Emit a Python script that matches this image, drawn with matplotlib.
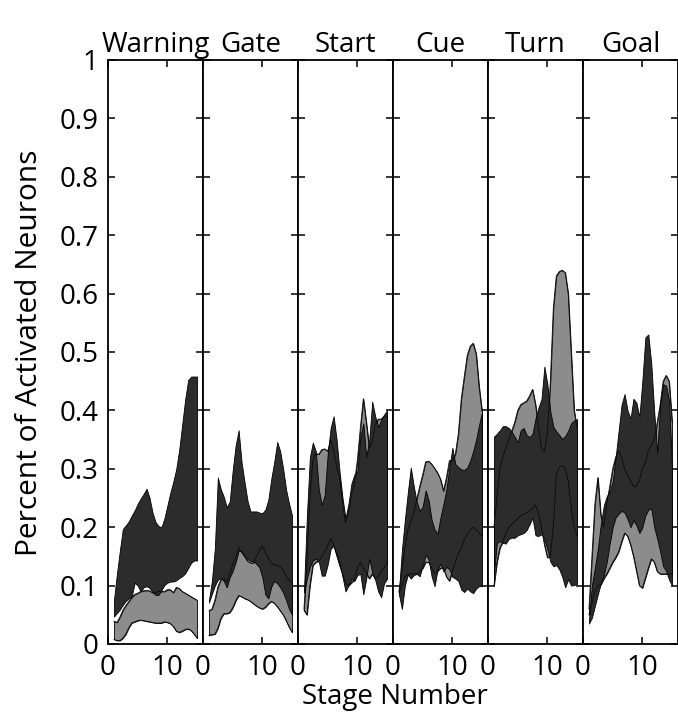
import matplotlib
matplotlib.use('Agg')
import matplotlib.pyplot as plt

plt.rcParams['font.family'] = ['Open Sans', 'DejaVu Sans']

stage = [1.0, 1.5, 2.0, 2.5, 3.0, 3.5, 4.0, 4.5, 5.0, 5.5, 6.0, 6.5, 7.0, 7.5,
         8.0, 8.5, 9.0, 9.5, 10.0, 10.5, 11.0, 11.5, 12.0, 12.5, 13.0, 13.5,
         14.0, 14.5, 15.0]

panel_names = ['Warning', 'Gate', 'Start', 'Cue', 'Turn', 'Goal']
y_ticks = [0, 0.1, 0.2, 0.3, 0.4, 0.5, 0.6, 0.7, 0.8, 0.9, 1]
y_tick_labels = ['0', '0.1', '0.2', '0.3', '0.4', '0.5', '0.6', '0.7', '0.8', '0.9', '1']
x_ticks = [0, 10]
x_tick_labels = ['0', '10']

# Warning
warning_dark_hi = [.075, .12, .16, .197, .203, .21, .22, .229, .24, .249, .257, .266, .25, .225,
                   .209, .202, .2, .215, .237, .259, .278, .3, .333, .376, .419, .452, .458, .458, .458]
warning_dark_lo = [.047, .053, .059, .067, .074, .078, .082, .105, .1, .09, .097, .099, .096, .089,
                   .084, .084, .092, .101, .105, .107, .107, .109, .113, .116, .121, .13, .139, .143, .143]
warning_light_hi = [.039, .037, .046, .058, .066, .073, .08, .085, .087, .09, .091, .092, .091, .088,
                    .088, .09, .09, .09, .093, .093, .088, .097, .095, .09, .087, .084, .081, .078, .075]
warning_light_lo = [.008, .006, .006, .01, .017, .028, .036, .038, .04, .041, .04, .039, .038, .037,
                    .036, .036, .036, .038, .037, .035, .03, .022, .02, .022, .025, .026, .023, .017, .01]

# Gate
gate_dark_hi = [.075, .108, .165, .285, .265, .252, .234, .244, .297, .34, .366, .311, .277, .245,
                .227, .227, .227, .225, .224, .23, .247, .283, .312, .346, .33, .3, .264, .24, .22]
gate_dark_lo = [.071, .086, .1, .11, .113, .108, .097, .114, .125, .14, .16, .159, .151, .145,
                .142, .142, .137, .131, .114, .085, .078, .098, .108, .104, .097, .088, .075, .06, .05]
gate_light_hi = [.057, .06, .075, .098, .11, .113, .106, .12, .136, .148, .165, .157, .15, .142,
                 .139, .139, .15, .16, .168, .157, .147, .139, .136, .134, .132, .127, .116, .109, .105]
gate_light_lo = [.015, .016, .017, .027, .044, .052, .052, .054, .062, .074, .083, .081, .078, .076,
                 .073, .069, .065, .062, .06, .063, .069, .073, .07, .064, .057, .05, .04, .029, .02]

# Start
start_dark_hi = [.09, .22, .32, .345, .33, .265, .238, .255, .325, .37, .39, .35, .295, .25,
                 .215, .24, .275, .29, .295, .355, .378, .32, .35, .415, .39, .372, .383, .393, .4]
start_dark_lo = [.088, .112, .132, .143, .146, .141, .117, .117, .136, .163, .168, .155, .138, .115,
                 .09, .1, .112, .108, .118, .12, .085, .112, .146, .122, .11, .09, .08, .104, .112]
start_light_hi = [.06, .14, .25, .315, .326, .325, .333, .334, .33, .35, .33, .305, .284, .24,
                  .207, .225, .255, .275, .315, .37, .42, .38, .335, .345, .375, .385, .385, .39, .39]
start_light_lo = [.058, .05, .1, .135, .14, .142, .15, .158, .168, .18, .17, .152, .135, .12,
                  .104, .1, .105, .11, .13, .14, .13, .122, .112, .12, .112, .115, .125, .13, .14]

# Cue
cue_dark_hi = [.09, .161, .213, .26, .302, .27, .243, .228, .235, .263, .246, .213, .196, .189,
               .217, .24, .265, .302, .336, .308, .303, .299, .298, .302, .314, .33, .35, .375, .398]
cue_dark_lo = [.085, .06, .1, .119, .112, .118, .12, .116, .134, .153, .145, .116, .099, .127,
               .138, .124, .132, .128, .115, .112, .108, .093, .089, .095, .09, .087, .095, .099, .099]
cue_light_hi = [.09, .125, .165, .195, .21, .224, .248, .27, .29, .312, .313, .308, .301, .293,
                .282, .262, .285, .314, .314, .325, .36, .42, .458, .494, .51, .515, .497, .44, .398]
cue_light_lo = [.088, .1, .115, .12, .12, .12, .12, .125, .13, .14, .14, .13, .12, .125,
                .13, .13, .115, .108, .125, .14, .155, .165, .178, .189, .195, .2, .196, .19, .185]

# Turn
turn_dark_hi = [.355, .36, .366, .373, .373, .37, .363, .355, .345, .366, .37, .358, .354, .36,
                .386, .405, .419, .475, .445, .398, .372, .364, .358, .351, .356, .365, .378, .383, .385]
turn_dark_lo = [.12, .173, .176, .173, .172, .18, .182, .182, .186, .188, .19, .195, .205, .216,
                .186, .185, .188, .18, .162, .141, .133, .135, .128, .115, .097, .111, .1, .101, .103]
turn_light_hi = [.2, .25, .3, .32, .335, .35, .365, .38, .4, .41, .413, .416, .425, .436,
                 .41, .37, .335, .33, .36, .45, .575, .63, .638, .64, .636, .6, .5, .4, .37]
turn_light_lo = [.1, .14, .165, .175, .19, .2, .205, .21, .215, .22, .222, .225, .228, .232,
                 .238, .225, .2, .17, .148, .15, .2, .29, .303, .306, .3, .28, .235, .2, .185]

# Goal
goal_dark_hi = [.04, .101, .13, .163, .205, .237, .253, .261, .278, .32, .365, .41, .428, .4,
                .386, .42, .413, .389, .451, .525, .53, .48, .397, .327, .411, .445, .442, .417, .3]
goal_dark_lo = [.035, .045, .065, .085, .104, .118, .14, .172, .2, .217, .223, .228, .225, .214,
                .2, .212, .203, .19, .2, .22, .23, .232, .2, .18, .158, .133, .125, .11, .1]
goal_light_hi = [.06, .15, .24, .285, .22, .2, .24, .27, .3, .32, .33, .32, .3, .29,
                 .28, .27, .27, .28, .3, .31, .33, .34, .35, .38, .41, .45, .46, .45, .38]
goal_light_lo = [.05, .07, .09, .1, .102, .112, .12, .13, .14, .148, .158, .175, .19, .185,
                 .17, .15, .125, .1, .096, .113, .13, .146, .14, .124, .12, .12, .12, .12, .12]

dark_hi = [warning_dark_hi, gate_dark_hi, start_dark_hi, cue_dark_hi, turn_dark_hi, goal_dark_hi]
dark_lo = [warning_dark_lo, gate_dark_lo, start_dark_lo, cue_dark_lo, turn_dark_lo, goal_dark_lo]
light_hi = [warning_light_hi, gate_light_hi, start_light_hi, cue_light_hi, turn_light_hi, goal_light_hi]
light_lo = [warning_light_lo, gate_light_lo, start_light_lo, cue_light_lo, turn_light_lo, goal_light_lo]

DARK = '#2c2c2c'
LIGHT = '#8c8c8c'
FS = 20

fig = plt.figure(figsize=(6.78, 7.15), dpi=100)
left0 = 108 / 678
pw = 95 / 678
bottom = 1 - 644 / 715
height = (644 - 60) / 715

for i, name in enumerate(panel_names):
    ax = fig.add_axes([left0 + i * pw, bottom, pw, height])
    ax.fill_between(stage, light_lo[i], light_hi[i], facecolor=LIGHT,
                    edgecolor='black', linewidth=0.6, zorder=2)
    ax.fill_between(stage, dark_lo[i], dark_hi[i], facecolor=DARK,
                    edgecolor='black', linewidth=0.6, zorder=3)
    ax.plot(stage, light_hi[i], color='#0a0a0a', linewidth=0.6, zorder=4)
    ax.plot(stage, light_lo[i], color='#0a0a0a', linewidth=0.6, zorder=4)
    ax.set_xlim(0, 16)
    ax.set_ylim(0, 1)
    ax.set_xticks(x_ticks)
    ax.set_xticklabels(x_tick_labels)
    ax.set_yticks(y_ticks)
    if i == 0:
        ax.set_yticklabels(y_tick_labels)
    else:
        ax.set_yticklabels([])
    ax.tick_params(direction='in', top=True, right=True, length=5, width=1.1,
                   labelsize=FS, pad=7)
    for sp in ax.spines.values():
        sp.set_linewidth(1.3)
    ax.set_title(name, fontsize=FS, pad=6)

fig.text(0.044, 0.507, 'Percent of Activated Neurons', rotation=90,
         ha='center', va='center', fontsize=21.5)
fig.text(395 / 678, 1 - 697 / 715, 'Stage Number', ha='center', va='center',
         fontsize=FS)

fig.savefig('out.png', dpi=100)
